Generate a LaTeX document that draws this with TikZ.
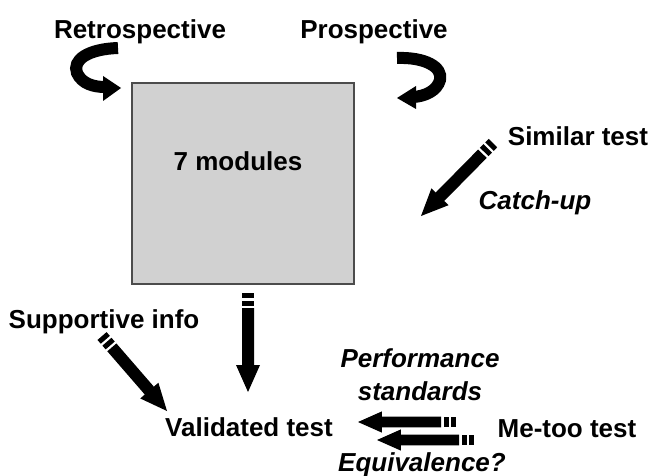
\documentclass[tikz,border=0pt]{standalone}
\usepackage{fontspec}
\setmainfont{Liberation Sans}
\usetikzlibrary{calc}

\tikzset{
  label/.style={font=\fontsize{26}{31}\selectfont\bfseries, inner sep=0pt, anchor=base},
  ilabel/.style={label, font=\fontsize{26}{31}\selectfont\bfseries\itshape},
  modulebox/.style={draw=black!70, line width=2pt, fill=black!18},
  curvedshaft/.style={line width=12pt, draw=black},
}

% A block arrow with two short bars at its tail, drawn from tail to tip.
\makeatletter
\newcommand\stripedarrow[3][1]{%
  \pgfpointdiff{\pgfpointanchor{#2}{center}}{\pgfpointanchor{#3}{center}}%
  \pgfgetlastxy{\sa@dx}{\sa@dy}%
  \pgfmathsetmacro\sa@ang{atan2(\sa@dy,\sa@dx)}%
  \pgfmathsetmacro\sa@len{veclen(\sa@dx,\sa@dy)}%
  \begin{scope}[shift={(#3)}, rotate=\sa@ang, x=1pt, y=1pt]
    \pgfmathsetmacro\sa@w{6*#1}%
    \pgfmathsetmacro\sa@h{12*#1}%
    \pgfmathsetmacro\sa@hl{27*#1}%
    \fill[black] (0,0) -- (-\sa@hl,\sa@h) -- (-\sa@hl,\sa@w)
      -- (-\sa@len+15,\sa@w) -- (-\sa@len+15,-\sa@w) -- (-\sa@hl,-\sa@w)
      -- (-\sa@hl,-\sa@h) -- cycle;
    \fill[black] (-\sa@len,-\sa@w) rectangle (-\sa@len+5,\sa@w);
    \fill[black] (-\sa@len+7.5,-\sa@w) rectangle (-\sa@len+12.5,\sa@w);
  \end{scope}}
\makeatother

\begin{document}
\begin{tikzpicture}[x=1pt, y=-1pt]
\useasboundingbox (0,0) rectangle (653,476);

% central box
\node[modulebox, minimum width=222pt, minimum height=201pt, anchor=north west, inner sep=0pt] (box) at (131,82) {};
\node[label] (mod) at (238,171) {7 modules};

% text labels
\node[label] (retro) at (140,39) {Retrospective};
\node[label] (prosp) at (374,39) {Prospective};
\node[label] (similar) at (578,146) {Similar test};
\node[ilabel] (catch) at (535,209) {Catch-up};
\node[label] (support) at (104,328) {Supportive info};
\node[ilabel] (perf) at (420,367) {Performance};
\node[ilabel] (stand) at (420,400) {standards};
\node[label] (valid) at (249,436) {Validated test};
\node[label] (metoo) at (567,437) {Me-too test};
\node[ilabel] (equiv) at (422,471) {Equivalence?};

% curved arrows above the box
\draw[curvedshaft] (118,48) .. controls (88,49) and (72,60) .. (77,73)
  .. controls (82,84) and (94,87) .. (105,87);
\fill (103,76) -- (121,88) -- (103,101) -- cycle;

\draw[curvedshaft] (397,58) .. controls (425,57) and (443,67) .. (440,80)
  .. controls (437,91) and (425,96) .. (414,97);
\fill (416,86) -- (397,98) -- (416,109) -- cycle;

% striped arrows
\coordinate (downtail) at (248,293);
\coordinate (downtip) at (248,392);
\stripedarrow{downtail}{downtip}

\coordinate (catchtail) at (493,143);
\coordinate (catchtip) at (421,216);
\stripedarrow{catchtail}{catchtip}

\coordinate (supptail) at (102,336);
\coordinate (supptip) at (167,411);
\stripedarrow{supptail}{supptip}

\coordinate (perftail) at (456,422);
\coordinate (perftip) at (358,422);
\stripedarrow[0.88]{perftail}{perftip}

\coordinate (eqtail) at (474,440);
\coordinate (eqtip) at (377,440);
\stripedarrow[0.88]{eqtail}{eqtip}
\end{tikzpicture}
\end{document}
